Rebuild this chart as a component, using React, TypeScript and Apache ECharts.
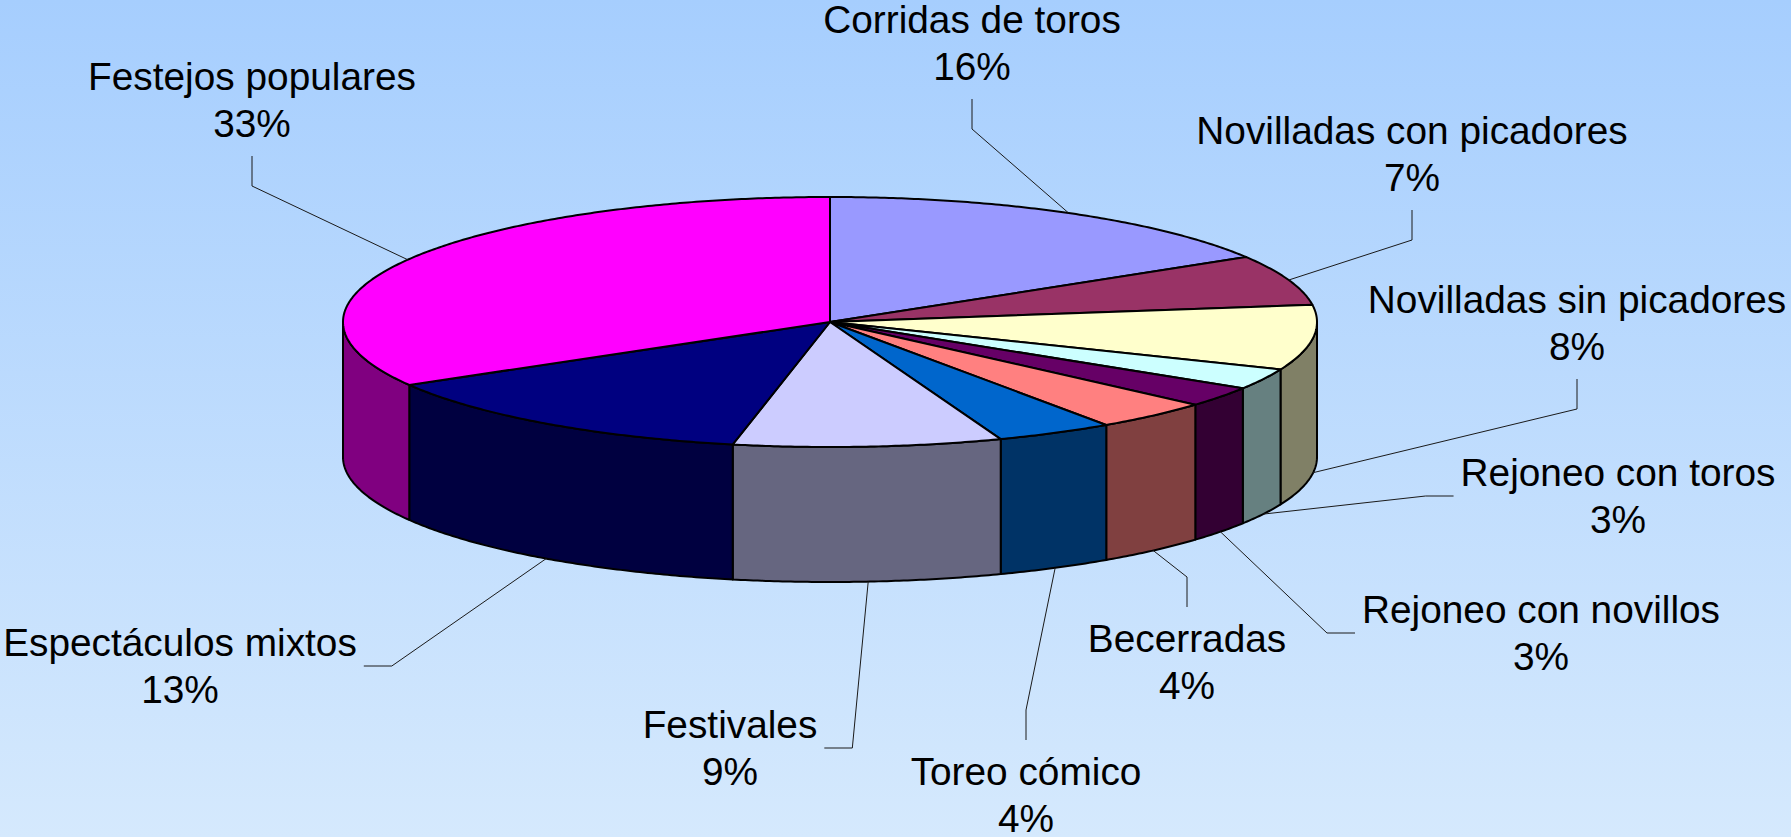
import React, { useEffect, useRef } from 'react';
import * as echarts from 'echarts';

// ---- data ----
const categories = [
  'Corridas de toros',
  'Novilladas con picadores',
  'Novilladas sin picadores',
  'Rejoneo con toros',
  'Rejoneo con novillos',
  'Becerradas',
  'Toreo cómico',
  'Festivales',
  'Espectáculos mixtos',
  'Festejos populares',
];
const values = [16.3, 6.5, 8.4, 2.7, 2.6, 3.9, 3.9, 8.9, 13.4, 33.4];

// ---- styles ----
const topColors = ['#9999ff', '#993366', '#ffffcc', '#ccffff', '#660066', '#ff8080', '#0066cc', '#ccccff', '#000080', '#ff00ff'];
const sideColors = ['#4d4d80', '#4d1a33', '#808066', '#668080', '#330033', '#804040', '#003366', '#666680', '#000040', '#800080'];

// ---- layout (label block centres and which side the leader attaches to) ----
const labelLayout: [number, number, string][] = [
  [972, 43, 'below'],
  [1412, 154, 'below'],
  [1577, 323, 'below'],
  [1618, 496, 'left'],
  [1541, 633, 'left'],
  [1187, 662, 'above'],
  [1026, 795, 'above'],
  [730, 748, 'right'],
  [180, 666, 'right'],
  [252, 100, 'below'],
];

const CX = 830, CY = 322, RX = 487, RY = 125, DEPTH = 135;
const FONT_SIZE = 38.8, LINE_H = 47, FONT_FAMILY = 'Liberation Sans';

export default function App() {
  const ref = useRef<HTMLDivElement>(null);
  useEffect(() => {
    if (!ref.current) return;
    const chart = echarts.init(ref.current, null, { renderer: 'svg' });
    const total = values.reduce((a, b) => a + b, 0);
    const starts: number[] = [];
    let acc = 0;
    values.forEach((v) => { starts.push((acc / total) * 360); acc += v; });

    const P = (deg: number, dy = 0) => {
      const r = (deg * Math.PI) / 180;
      return [CX + RX * Math.sin(r), CY - RY * Math.cos(r) + dy];
    };
    const arc = (a: number, b: number, dy: number) => {
      const n = Math.max(2, Math.ceil((b - a) / 0.5));
      const pts: number[][] = [];
      for (let i = 0; i <= n; i++) pts.push(P(a + ((b - a) * i) / n, dy));
      return pts;
    };
    const canvas = document.createElement('canvas');
    const ctx = canvas.getContext('2d')!;
    ctx.font = `${FONT_SIZE}px "${FONT_FAMILY}"`;

    const pieItem = (params: any, api: any) => {
      const i = params.dataIndex;
      const v = api.value(0);
      const a1 = starts[i];
      const a2 = a1 + (v / total) * 360;
      const children: any[] = [];
      const b1 = Math.max(a1, 90), b2 = Math.min(a2, 270);
      if (b2 > b1) {
        const top = arc(b1, b2, 0);
        const bot = arc(b1, b2, DEPTH).reverse();
        children.push({
          type: 'polygon',
          shape: { points: top.concat(bot) },
          style: { fill: sideColors[i], stroke: '#000', lineWidth: 2, lineJoin: 'round' },
        });
      }
      children.push({
        type: 'polygon',
        shape: { points: [[CX, CY]].concat(arc(a1, a2, 0)) },
        style: { fill: topColors[i], stroke: '#000', lineWidth: 2, lineJoin: 'round' },
      });
      return { type: 'group', children };
    };

    const labelItem = (params: any, api: any) => {
      const i = params.dataIndex;
      const v = api.value(0);
      const a1 = starts[i];
      const a2 = a1 + (v / total) * 360;
      const mid = (a1 + a2) / 2;
      const front = mid > 90 && mid < 270;
      const start = P(mid, front ? DEPTH : 0);
      const [lx, ly, attach] = labelLayout[i];
      const pct = Math.round((v / total) * 100) + '%';
      const name = categories[i];
      const w = Math.max(ctx.measureText(name).width, ctx.measureText(pct).width);
      let end: number[], elbow: number[];
      if (attach === 'below') {
        end = [lx, ly + 56];
        elbow = [lx, ly + 86];
      } else if (attach === 'above') {
        end = [lx, ly - 55];
        elbow = [lx, ly - 85];
      } else if (attach === 'left') {
        end = [lx - w / 2 - 7, ly];
        elbow = [end[0] - 28, ly];
      } else {
        end = [lx + w / 2 + 7, ly];
        elbow = [end[0] + 28, ly];
      }
      return {
        type: 'group',
        children: [
          {
            type: 'polyline',
            shape: { points: [start, elbow, end] },
            style: { stroke: '#1a1a1a', lineWidth: 1, fill: null },
          },
          {
            type: 'text',
            x: lx,
            y: ly,
            style: {
              text: name + '\n' + pct,
              fill: '#000',
              fontSize: FONT_SIZE,
              fontFamily: FONT_FAMILY,
              align: 'center',
              verticalAlign: 'middle',
              lineHeight: LINE_H,
            },
          },
        ],
      };
    };

    chart.setOption({
      animation: false,
      series: [
        {
          type: 'custom',
          coordinateSystem: 'none',
          renderItem: pieItem,
          data: values,
          z: 2,
          silent: true,
        },
        {
          type: 'custom',
          coordinateSystem: 'none',
          renderItem: labelItem,
          data: values,
          z: 3,
          silent: true,
        },
      ],
    });
    return () => chart.dispose();
  }, []);

  return (
    <div
      ref={ref}
      style={{
        position: 'fixed',
        left: 0,
        top: 0,
        width: '1791px',
        height: '837px',
        background: 'linear-gradient(to bottom, #a6cefe 0%, #d5e9fd 100%)',
      }}
    />
  );
}
